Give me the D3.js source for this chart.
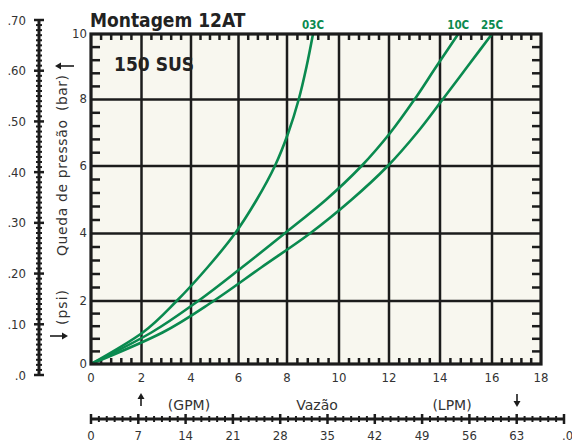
<!DOCTYPE html>
<html>
<head>
<meta charset="utf-8">
<script src="https://cdn.jsdelivr.net/npm/d3@7"></script>
<style>
  html, body { margin: 0; padding: 0; background: #ffffff; }
  svg { display: block; }
  .lbl { font-family: "DejaVu Sans Condensed", "Liberation Sans Narrow", Roboto, sans-serif; font-stretch: condensed; fill: #333; }
  .ttl { font-family: "DejaVu Sans", "Liberation Sans", Roboto, sans-serif; fill: #333; }
  .bold { font-family: "DejaVu Sans Condensed", "Liberation Sans Narrow", Roboto, sans-serif; font-stretch: condensed; font-weight: bold; }
</style>
</head>
<body>
<svg id="chart" width="572" height="442"></svg>
<script>
// Pressure drop (bar) steps and the flow (GPM) each cartridge reaches at that drop
const dropSteps = [0, 1, 2, 3, 4, 5, 6, 7, 8, 9, 10];
const flow03C = [0, 2.05, 3.42, 4.7, 5.85, 6.75, 7.5, 8.05, 8.45, 8.75, 9.0];
const flow10C = [0, 2.4, 4.3, 6.15, 7.9, 9.5, 10.9, 12.05, 13.0, 13.85, 14.7];
const flow25C = [0, 2.85, 4.95, 6.95, 8.88, 10.5, 11.95, 13.1, 14.1, 15.05, 16.0];
const curveNames = ["03C", "10C", "25C"];

// Axis tick labels
const gpmTicks = [0, 2, 4, 6, 8, 10, 12, 14, 16, 18];
const barTicks = [0, 2, 4, 6, 8, 10];
const psiTicks = [0, 0.1, 0.2, 0.3, 0.4, 0.5, 0.6, 0.7];
const psiLabels = [".0", ".10", ".20", ".30", ".40", ".50", ".60", ".70"];
const lpmTicks = [0, 7, 14, 21, 28, 35, 42, 49, 56, 63, 70];
const lpmLabels = ["0", "7", "14", "21", "28", "35", "42", "49", "56", "63", ".0"];

const green = "#0a8a4f";
const ink = "#1c1c1c";

const svg = d3.select("#chart");
// The printed grid is slightly uneven, so the scales are piecewise linear
const x = d3.scaleLinear().domain(gpmTicks).range([91, 141.5, 191, 238.5, 287, 339, 389, 440, 492, 541]);
const y = d3.scaleLinear().domain(barTicks).range([364, 301, 233.5, 166, 99.5, 34]);
const psi = d3.scaleLinear().domain([0, 0.7]).range([375, 20]);
const lpm = d3.scaleLinear().domain([0, 70]).range([91, 564]);

// Plot background
svg.append("rect")
  .attr("x", x(0)).attr("y", y(10))
  .attr("width", x(18) - x(0)).attr("height", y(0) - y(10))
  .attr("fill", "#f8f7ef");

// Grid lines
const g = svg.append("g");
gpmTicks.filter(v => v > 0 && v < 18).forEach(v => {
  g.append("line").attr("x1", x(v)).attr("x2", x(v)).attr("y1", y(0)).attr("y2", y(10))
    .attr("stroke", ink).attr("stroke-width", 2.5);
});
barTicks.filter(v => v > 0 && v < 10).forEach(v => {
  g.append("line").attr("x1", x(0)).attr("x2", x(18)).attr("y1", y(v)).attr("y2", y(v))
    .attr("stroke", ink).attr("stroke-width", 2.5);
});

// Minor inside ticks on all four sides
const isMajor = v => Math.abs(v / 2 - Math.round(v / 2)) < 1e-6;
const xMinor = d3.range(0, 18.001, 0.4).filter(v => !isMajor(v));
const yMinor = d3.range(0, 10.001, 0.4).filter(v => !isMajor(v));
xMinor.forEach(v => {
  g.append("line").attr("x1", x(v)).attr("x2", x(v)).attr("y1", y(0)).attr("y2", y(0) - 6)
    .attr("stroke", ink).attr("stroke-width", 2.5);
  g.append("line").attr("x1", x(v)).attr("x2", x(v)).attr("y1", y(10)).attr("y2", y(10) + 6)
    .attr("stroke", ink).attr("stroke-width", 2.5);
});
yMinor.forEach(v => {
  g.append("line").attr("x1", x(0)).attr("x2", x(0) + 9).attr("y1", y(v)).attr("y2", y(v))
    .attr("stroke", ink).attr("stroke-width", 2.5);
  g.append("line").attr("x1", x(18)).attr("x2", x(18) - 9).attr("y1", y(v)).attr("y2", y(v))
    .attr("stroke", ink).attr("stroke-width", 2.5);
});

// Curves
svg.append("clipPath").attr("id", "plotclip").append("rect")
  .attr("x", x(0)).attr("y", y(10)).attr("width", x(18) - x(0)).attr("height", y(0) - y(10));
const series = [
  { name: curveNames[0], flow: flow03C },
  { name: curveNames[1], flow: flow10C },
  { name: curveNames[2], flow: flow25C }
];
const line = d3.line().x(d => x(d[0])).y(d => y(d[1])).curve(d3.curveMonotoneY);
series.forEach(s => {
  const pts = s.flow.map((q, i) => [q, dropSteps[i]]);
  svg.append("path").attr("d", line(pts))
    .attr("fill", "none").attr("stroke", green).attr("stroke-width", 2.6)
    .attr("clip-path", "url(#plotclip)");
  const last = pts[pts.length - 1];
  svg.append("text").attr("class", "bold")
    .attr("x", x(last[0])).attr("y", 29)
    .attr("text-anchor", "middle").attr("font-size", 11.5).attr("fill", green)
    .text(s.name);
});

// Frame
svg.append("rect")
  .attr("x", x(0)).attr("y", y(10))
  .attr("width", x(18) - x(0)).attr("height", y(0) - y(10))
  .attr("fill", "none").attr("stroke", ink).attr("stroke-width", 3.2);

// Bar and GPM tick labels
svg.selectAll(".barlbl").data(barTicks).join("text").attr("class", "lbl")
  .attr("x", 87).attr("y", d => y(d) - 1).attr("dy", "0.35em")
  .attr("text-anchor", "end").attr("font-size", 13).text(d => d);
svg.selectAll(".gpmlbl").data(gpmTicks).join("text").attr("class", "lbl")
  .attr("x", d => x(d)).attr("y", 377).attr("dy", "0.35em")
  .attr("text-anchor", "middle").attr("font-size", 13).text(d => d);

// psi ruler
const pr = svg.append("g");
pr.append("line").attr("x1", 39).attr("x2", 39).attr("y1", psi(0)).attr("y2", psi(0.7))
  .attr("stroke", ink).attr("stroke-width", 3);
d3.range(0, 71).forEach(i => {
  const major = i % 10 === 0;
  pr.append("line").attr("x1", major ? 34 : 36).attr("x2", major ? 44 : 42)
    .attr("y1", psi(i / 100)).attr("y2", psi(i / 100))
    .attr("stroke", ink).attr("stroke-width", major ? 2.5 : 2);
});
svg.selectAll(".psilbl").data(psiTicks).join("text").attr("class", "lbl")
  .attr("x", 26).attr("y", d => psi(d)).attr("dy", "0.35em")
  .attr("text-anchor", "end").attr("font-size", 13).text((d, i) => psiLabels[i]);

// LPM ruler: six subdivisions between labelled ticks
const lr = svg.append("g");
lr.append("line").attr("x1", lpm(0)).attr("x2", lpm(70)).attr("y1", 419).attr("y2", 419)
  .attr("stroke", ink).attr("stroke-width", 3);
d3.range(0, 61).forEach(i => {
  const v = i * 7 / 6;
  const major = i % 6 === 0;
  lr.append("line").attr("x1", lpm(v)).attr("x2", lpm(v))
    .attr("y1", major ? 414 : 416).attr("y2", major ? 424 : 422)
    .attr("stroke", ink).attr("stroke-width", major ? 2.5 : 2);
});
svg.selectAll(".lpmlbl").data(lpmTicks).join("text").attr("class", "lbl")
  .attr("x", (d, i) => i === lpmTicks.length - 1 ? lpm(d) - 2 : lpm(d)).attr("y", 435).attr("dy", "0.35em")
  .attr("text-anchor", (d, i) => i === lpmTicks.length - 1 ? "start" : "middle")
  .attr("font-size", 13).text((d, i) => lpmLabels[i]);

// Axis titles
svg.append("text").attr("class", "ttl").attr("font-size", 14)
  .attr("transform", "translate(67,256) rotate(-90)").attr("text-anchor", "start")
  .attr("textLength", 136).attr("lengthAdjust", "spacing")
  .text("Queda de pressão");
svg.append("text").attr("class", "ttl").attr("font-size", 14)
  .attr("transform", "translate(67,111) rotate(-90)").attr("text-anchor", "start")
  .attr("textLength", 36).attr("lengthAdjust", "spacing")
  .text("(bar)");
svg.append("text").attr("class", "ttl").attr("font-size", 14)
  .attr("transform", "translate(67,325) rotate(-90)").attr("text-anchor", "start")
  .attr("textLength", 35).attr("lengthAdjust", "spacing")
  .text("(psi)");
svg.append("text").attr("class", "ttl").attr("font-size", 14)
  .attr("x", 189).attr("y", 405).attr("dy", "0.35em").attr("text-anchor", "middle").text("(GPM)");
svg.append("text").attr("class", "ttl").attr("font-size", 14)
  .attr("x", 317).attr("y", 405).attr("dy", "0.35em").attr("text-anchor", "middle").text("Vazão");
svg.append("text").attr("class", "ttl").attr("font-size", 14)
  .attr("x", 452).attr("y", 405).attr("dy", "0.35em").attr("text-anchor", "middle").text("(LPM)");

// Pointer arrows
function arrow(x1, y1, x2, y2) {
  const a = Math.atan2(y2 - y1, x2 - x1), L = 6, W = 3.5;
  svg.append("line").attr("x1", x1).attr("y1", y1)
    .attr("x2", x2 - Math.cos(a) * L * 0.8).attr("y2", y2 - Math.sin(a) * L * 0.8)
    .attr("stroke", ink).attr("stroke-width", 1.6);
  const p = [[x2, y2],
    [x2 - Math.cos(a) * L - Math.sin(a) * W, y2 - Math.sin(a) * L + Math.cos(a) * W],
    [x2 - Math.cos(a) * L + Math.sin(a) * W, y2 - Math.sin(a) * L - Math.cos(a) * W]];
  svg.append("path").attr("d", "M" + p.join("L") + "Z").attr("fill", ink);
}
arrow(74, 66, 55, 66);
arrow(50, 336, 68, 336);
arrow(141, 406, 141, 393);
arrow(517, 394, 517, 407);

// Titles
svg.append("text").attr("class", "bold").attr("x", 90).attr("y", 27)
  .attr("font-size", 19).attr("fill", "#222").text("Montagem 12AT");
svg.append("text").attr("class", "bold").attr("x", 114).attr("y", 71)
  .attr("font-size", 19).attr("fill", "#222").text("150 SUS");
</script>
</body>
</html>
